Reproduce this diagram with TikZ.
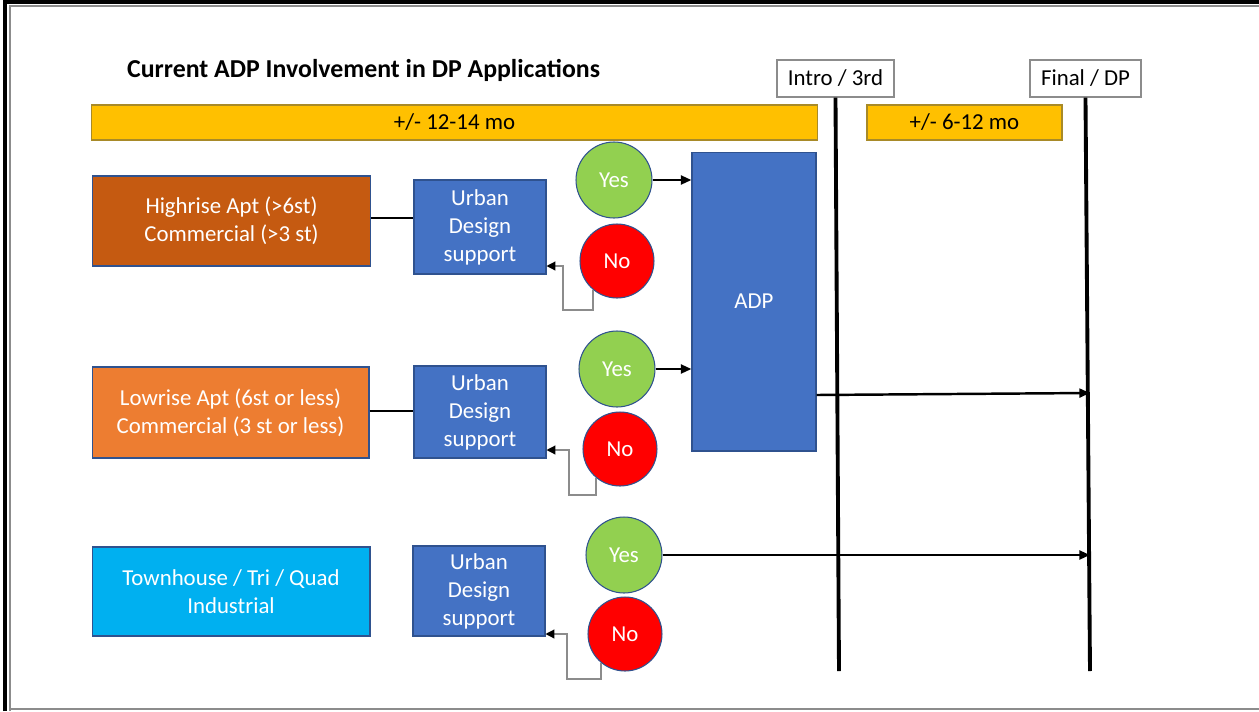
\documentclass[tikz,border=0pt]{standalone}
\usepackage{fontspec}
\setmainfont{Carlito}
\usetikzlibrary{positioning,calc,arrows.meta}
\definecolor{barGold}{HTML}{FFC000}
\definecolor{barEdge}{HTML}{A88A28}
\definecolor{edgeBlue}{HTML}{2F528F}
\definecolor{highOrange}{HTML}{C55A11}
\definecolor{lowOrange}{HTML}{ED7D31}
\definecolor{townBlue}{HTML}{00B0F0}
\definecolor{udBlue}{HTML}{4472C4}
\definecolor{yesGreen}{HTML}{92D050}
\definecolor{noRed}{HTML}{FF0000}
\definecolor{frameGray}{HTML}{8C8C8C}

\begin{document}
\begin{tikzpicture}[x=0.02cm,y=-0.02cm,>={Triangle[length=6pt,width=5pt]},
    every node/.style={font=\fontsize{13}{15.9}\selectfont},
    cat box/.style={rectangle,draw=edgeBlue,line width=0.6pt,text=white,align=center,
                    minimum width=5.56cm,minimum height=1.8cm},
    ud box/.style={rectangle,draw=edgeBlue,line width=0.6pt,fill=udBlue,text=white,align=center,
                   minimum width=2.64cm,minimum height=1.84cm},
    yes node/.style={circle,draw=edgeBlue,line width=0.6pt,fill=yesGreen,text=white,minimum size=1.52cm},
    no node/.style={circle,draw=edgeBlue,line width=0.6pt,fill=noRed,text=white,minimum size=1.48cm},
    bar/.style={rectangle,draw=barEdge,line width=0.6pt,fill=barGold,minimum height=0.7cm},
    stage/.style={rectangle,draw=frameGray,line width=0.8pt,fill=white,minimum height=0.74cm},
    link/.style={line width=1.4pt},
    fb/.style={draw=frameGray,line width=0.7pt,-{Triangle[length=5pt,width=5pt,color=black]}},
    timeline/.style={line width=2.2pt}]
\useasboundingbox (0,0) rectangle (1259,711);

% frame
\draw[line width=2.2pt] (5,711) -- (5,2) -- (1259,2);
\draw[frameGray,line width=1.6pt] (10,711) -- (10,6) -- (1259,6);
\draw[frameGray,line width=1.6pt] (10,709) -- (1259,709);

% title and time bars
\node[anchor=west,font=\fontsize{14.7}{17}\selectfont\bfseries] (title) at (121,70)
    {Current ADP Involvement in DP Applications};
\node[bar,minimum width=14.54cm] (bar1) at (454.5,122.5) {+/- 12-14 mo};
\node[bar,minimum width=3.9cm] (bar2) at (964.5,122.5) {+/- 6-12 mo};

% milestones
\node[stage,minimum width=2.34cm] (intro) at (835.5,78.5) {Intro / 3rd};
\node[stage,minimum width=2.22cm] (final) at (1085.5,78.5) {Final / DP};
\coordinate (introEnd) at (839,671);
\coordinate (finalEnd) at (1090,671);

% categories
\node[cat box,fill=highOrange] (high) at (231.5,221) {Highrise Apt (>6st)\\Commercial (>3 st)};
\node[cat box,fill=lowOrange,minimum width=5.54cm,minimum height=1.82cm] (low) at (230.5,412.5)
    {Lowrise Apt (6st or less)\\Commercial (3 st or less)};
\node[cat box,fill=townBlue,minimum height=1.78cm] (town) at (231,591.5)
    {Townhouse / Tri / Quad\\Industrial};

% urban design support
\node[ud box,minimum height=1.88cm] (ud1) at (480,227) {Urban\\Design\\support};
\node[ud box] (ud2) at (480,412) {Urban\\Design\\support};
\node[ud box,minimum height=1.8cm] (ud3) at (479,591) {Urban\\Design\\support};

% decisions
\node[yes node] (yes1) at (614,180) {Yes};
\node[no node] (no1) at (617,261) {No};
\node[yes node] (yes2) at (617,369) {Yes};
\node[no node] (no2) at (620,449) {No};
\node[yes node] (yes3) at (624,555) {Yes};
\node[no node] (no3) at (625,634) {No};

% panel
\node[rectangle,draw=edgeBlue,line width=0.6pt,fill=udBlue,text=white,
      minimum width=2.48cm,minimum height=5.98cm] (adp) at (754,301.5) {ADP};

% timelines
\draw[timeline] (intro.south) -- (introEnd);
\draw[timeline] (final.south) -- (finalEnd);

% connectors
\draw[link] (high.east |- 0,218) -- (ud1.west |- 0,218);
\draw[link] (low.east |- 0,411) -- (ud2.west |- 0,411);
\draw[link,->] (yes1) -- (yes1 -| adp.west);
\draw[link,->] (yes2) -- (yes2 -| adp.west);
\draw[link,->] (adp.east |- 0,395) -- (finalEnd |- 0,393);
\draw[link,->] (yes3) -- (finalEnd |- yes3);

% back to urban design
\draw[fb] (no1.230) |- (563,310) |- (ud1.east |- 0,266);
\draw[fb] (no2.230) |- (569,495) |- (ud2.east |- 0,450);
\draw[fb] (no3.230) |- (567,679) |- (ud3.east |- 0,634);
\end{tikzpicture}
\end{document}
